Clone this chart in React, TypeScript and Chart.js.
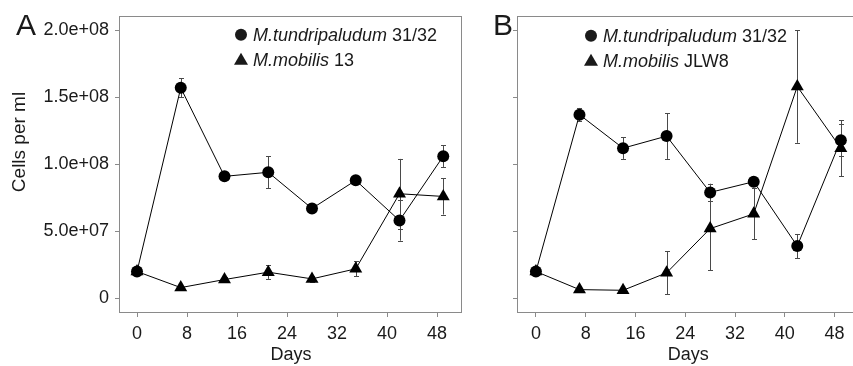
import { useEffect, useRef } from "react";
import { Chart, registerables } from "chart.js";

Chart.register(...registerables);

// ---- data ----
const days = [0, 7, 14, 21, 28, 35, 42, 49];

const aTundra = [2.0e7, 1.57e8, 0.91e8, 0.94e8, 0.67e8, 0.88e8, 0.58e8, 1.06e8];
const aTundraErr = [0.2e7, 0.07e8, 0.03e8, 0.12e8, 0.02e8, 0.02e8, 0.15e8, 0.08e8];
const aMobilis = [2.0e7, 0.8e7, 1.4e7, 1.95e7, 1.45e7, 2.2e7, 7.8e7, 7.6e7];
const aMobilisErr = [0.2e7, 0.1e7, 0.2e7, 0.5e7, 0.2e7, 0.55e7, 2.6e7, 1.35e7];

const bTundra = [2.0e7, 1.37e8, 1.12e8, 1.21e8, 0.79e8, 0.87e8, 0.39e8, 1.18e8];
const bTundraErr = [0.2e7, 0.05e8, 0.08e8, 0.17e8, 0.065e8, 0.02e8, 0.09e8, 0.12e8];
const bMobilis = [2.0e7, 0.65e7, 0.6e7, 1.9e7, 5.2e7, 6.3e7, 1.58e8, 1.12e8];
const bMobilisErr = [0.2e7, 0.1e7, 0.1e7, 1.6e7, 3.1e7, 1.9e7, 4.2e7, 2.1e7];

const yTicks = [0, 5e7, 1e8, 1.5e8, 2e8];
const yTickLabels = ["0", "5.0e+07", "1.0e+08", "1.5e+08", "2.0e+08"];
const xTicks = [0, 8, 16, 24, 32, 40, 48];

const xTitle = "Days";
const yTitle = "Cells per ml";
const tundraName = "M.tundripaludum";
const tundraStrain = " 31/32";
const mobilisName = "M.mobilis";
const aMobilisStrain = " 13";
const bMobilisStrain = " JLW8";

const FONT = '"Liberation Sans", Arial, sans-serif';
const TEXT = "#1a1a1a";
const GRAY = "#8a8a8a";

// ---- plugins ----
const framePlugin = {
  id: "frame",
  beforeDatasetsDraw(chart: any) {
    const { ctx, chartArea: a } = chart;
    ctx.save();
    ctx.strokeStyle = GRAY;
    ctx.lineWidth = 1;
    ctx.strokeRect(Math.round(a.left) - 0.5, Math.round(a.top) - 0.5, Math.round(a.right - a.left), Math.round(a.bottom - a.top) + 1);
    ctx.restore();
  },
};

const errorBarPlugin = {
  id: "errorBars",
  beforeDatasetsDraw(chart: any) {
    const { ctx } = chart;
    const ys = chart.scales.y;
    ctx.save();
    ctx.strokeStyle = "#4a4a4a";
    ctx.lineWidth = 1;
    chart.data.datasets.forEach((ds: any, di: number) => {
      const meta = chart.getDatasetMeta(di);
      const errs: number[] = ds.errors || [];
      meta.data.forEach((pt: any, i: number) => {
        const v = ds.data[i].y;
        const e = errs[i] || 0;
        const x = Math.round(pt.x) + 0.5;
        const yTop = ys.getPixelForValue(v + e);
        const yBot = ys.getPixelForValue(v - e);
        ctx.beginPath();
        ctx.moveTo(x, yTop);
        ctx.lineTo(x, yBot);
        ctx.moveTo(x - 2.5, Math.round(yTop) + 0.5);
        ctx.lineTo(x + 2.5, Math.round(yTop) + 0.5);
        ctx.moveTo(x - 2.5, Math.round(yBot) + 0.5);
        ctx.lineTo(x + 2.5, Math.round(yBot) + 0.5);
        ctx.stroke();
      });
    });
    ctx.restore();
  },
};

function drawMarker(ctx: any, style: string, x: number, y: number) {
  ctx.beginPath();
  if (style === "circle") {
    ctx.arc(x, y, 6, 0, Math.PI * 2);
  } else {
    ctx.moveTo(x, y - 7);
    ctx.lineTo(x - 7, y + 5);
    ctx.lineTo(x + 7, y + 5);
    ctx.closePath();
  }
  ctx.fill();
}

const annotPlugin = {
  id: "annot",
  afterDraw(chart: any, _args: any, opts: any) {
    const { ctx, chartArea: a } = chart;
    ctx.save();
    ctx.fillStyle = TEXT;
    // panel letter
    ctx.font = `30px ${FONT}`;
    ctx.textAlign = "left";
    ctx.textBaseline = "alphabetic";
    ctx.fillText(opts.letter, opts.letterX, 35);
    // y title
    if (opts.yTitle) {
      ctx.save();
      ctx.translate(25, 142);
      ctx.rotate(-Math.PI / 2);
      ctx.font = `19px ${FONT}`;
      ctx.textAlign = "center";
      ctx.textBaseline = "alphabetic";
      ctx.fillText(opts.yTitle, 0, 0);
      ctx.restore();
    }
    // legend
    opts.legend.forEach((item: any, i: number) => {
      const mx = a.left + opts.legendX;
      const my = a.top + opts.legendY + i * 25;
      drawMarker(ctx, item.style, mx, my);
      ctx.textBaseline = "middle";
      ctx.textAlign = "left";
      ctx.font = `italic 18px ${FONT}`;
      const tx = mx + 12;
      ctx.fillText(item.name, tx, my + 1);
      const w = ctx.measureText(item.name).width;
      ctx.font = `18px ${FONT}`;
      ctx.fillText(item.strain, tx + w, my + 1);
    });
    ctx.restore();
  },
};

function makeConfig(p: {
  tundra: number[]; tundraErr: number[]; mobilis: number[]; mobilisErr: number[];
  showYLabels: boolean; yWidth: number; padRight: number; xMin: number; xMax: number;
  letter: string; letterX: number; legendX: number; legendY: number; mobilisStrain: string;
}): any {
  const pts = (vals: number[]) => days.map((d, i) => ({ x: d, y: vals[i] }));
  return {
    type: "scatter",
    data: {
      datasets: [
        {
          label: tundraName + tundraStrain,
          data: pts(p.tundra),
          errors: p.tundraErr,
          showLine: true,
          borderColor: "#000",
          borderWidth: 1,
          pointStyle: "circle",
          pointRadius: 6,
          pointBackgroundColor: "#000",
          pointBorderWidth: 0,
        },
        {
          label: mobilisName + p.mobilisStrain,
          data: pts(p.mobilis),
          errors: p.mobilisErr,
          showLine: true,
          borderColor: "#000",
          borderWidth: 1,
          pointStyle: "triangle",
          pointRadius: 7.5,
          pointBackgroundColor: "#000",
          pointBorderWidth: 0,
        },
      ],
    },
    options: {
      responsive: false,
      animation: false,
      devicePixelRatio: 1,
      layout: { padding: { top: 10, right: p.padRight, left: 0, bottom: 0 } },
      plugins: {
        legend: { display: false },
        tooltip: { enabled: false },
        annot: {
          letter: p.letter,
          letterX: p.letterX,
          yTitle: p.showYLabels ? yTitle : null,
          legendX: p.legendX,
          legendY: p.legendY,
          legend: [
            { style: "circle", name: tundraName, strain: tundraStrain },
            { style: "triangle", name: mobilisName, strain: p.mobilisStrain },
          ],
        },
      },
      scales: {
        x: {
          type: "linear",
          min: p.xMin,
          max: p.xMax,
          afterBuildTicks: (s: any) => { s.ticks = xTicks.map((v) => ({ value: v })); },
          afterFit: (s: any) => { s.height = 54; },
          border: { display: false },
          grid: { drawOnChartArea: false, drawTicks: true, tickLength: 5, color: GRAY },
          ticks: { font: { family: FONT, size: 18 }, color: TEXT, padding: 6, maxRotation: 0, autoSkip: false },
          title: { display: true, text: xTitle, font: { family: FONT, size: 18 }, color: TEXT, padding: { top: 0, bottom: 0 } },
        },
        y: {
          type: "linear",
          min: -1.02e7,
          max: 2.1e8,
          afterBuildTicks: (s: any) => { s.ticks = yTicks.map((v) => ({ value: v })); },
          afterFit: (s: any) => { s.width = p.yWidth; },
          border: { display: false },
          grid: { drawOnChartArea: false, drawTicks: true, tickLength: 5, color: GRAY },
          ticks: {
            font: { family: FONT, size: 18 },
            color: TEXT,
            padding: 6,
            autoSkip: false,
            callback: (v: number) => {
              if (!p.showYLabels) return "";
              const i = yTicks.indexOf(v);
              return i >= 0 ? yTickLabels[i] : "";
            },
          },
        },
      },
    },
    plugins: [framePlugin, errorBarPlugin, annotPlugin],
  };
}

export default function App() {
  const refA = useRef<HTMLCanvasElement>(null);
  const refB = useRef<HTMLCanvasElement>(null);
  useEffect(() => {
    const a = new Chart(refA.current as HTMLCanvasElement, makeConfig({
      tundra: aTundra, tundraErr: aTundraErr, mobilis: aMobilis, mobilisErr: aMobilisErr,
      showYLabels: true, yWidth: 120, padRight: 8, xMin: -2.72, xMax: 52.0,
      letter: "A", letterX: 16, legendX: 121, legendY: 18, mobilisStrain: aMobilisStrain,
    }));
    const b = new Chart(refB.current as HTMLCanvasElement, makeConfig({
      tundra: bTundra, tundraErr: bTundraErr, mobilis: bMobilis, mobilisErr: bMobilisErr,
      showYLabels: false, yWidth: 48, padRight: 6, xMin: -2.88, xMax: 51.84,
      letter: "B", letterX: 23, legendX: 73, legendY: 19, mobilisStrain: bMobilisStrain,
    }));
    return () => { a.destroy(); b.destroy(); };
  }, []);
  return (
    <div style={{ position: "fixed", left: 0, top: 0, width: 853, height: 366, overflow: "hidden", background: "#fff" }}>
      <canvas ref={refA} width={470} height={366} style={{ position: "absolute", left: 0, top: 0 }} />
      <canvas ref={refB} width={396} height={366} style={{ position: "absolute", left: 470, top: 0 }} />
    </div>
  );
}
